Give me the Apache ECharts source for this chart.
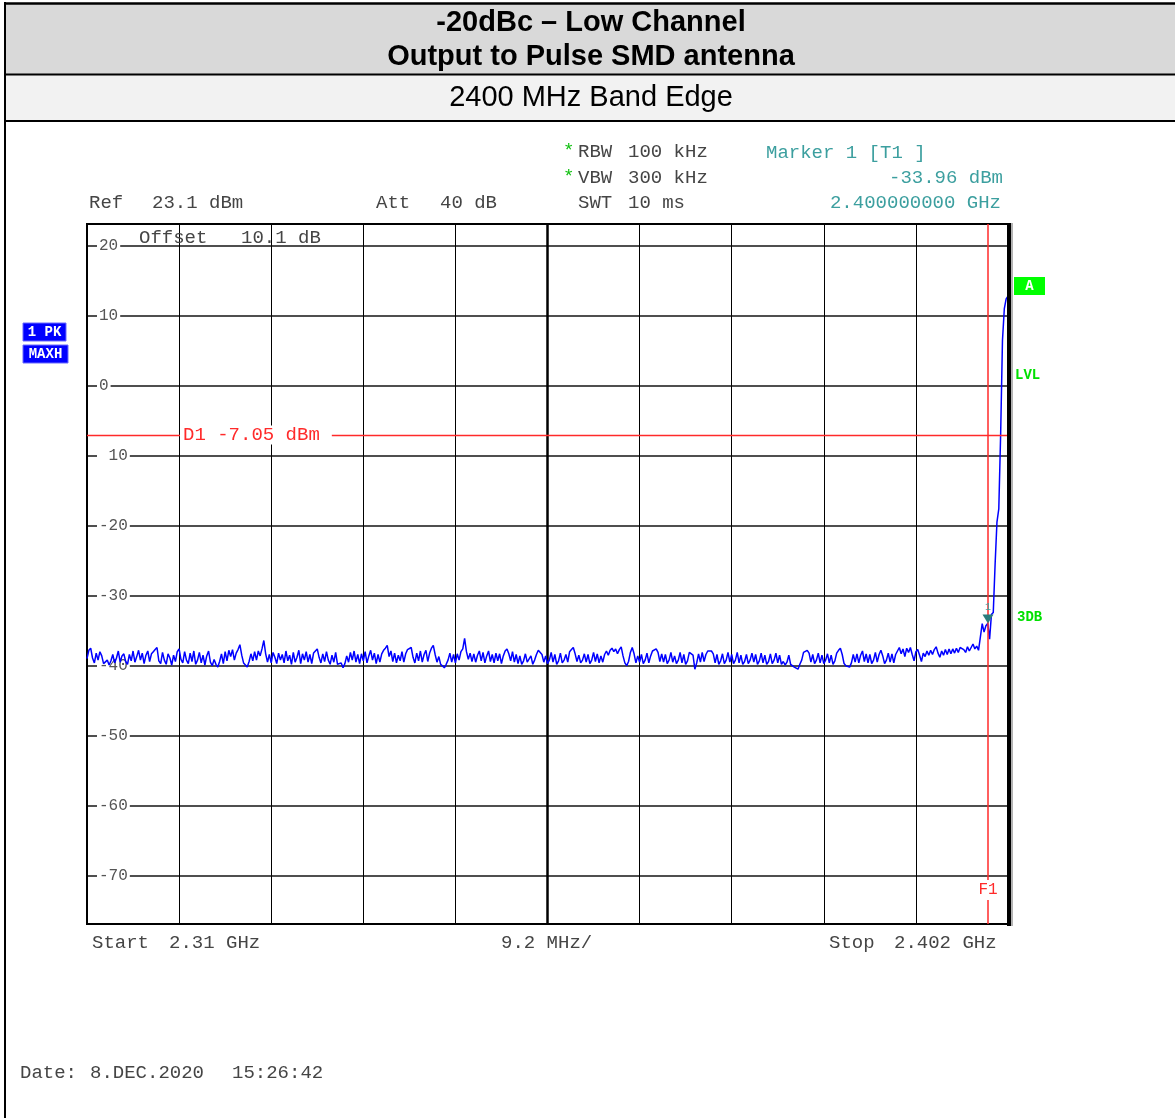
<!DOCTYPE html>
<html>
<head>
<meta charset="utf-8">
<script src="https://cdn.jsdelivr.net/npm/echarts@6/dist/echarts.min.js"></script>
<style>
  html, body { margin: 0; padding: 0; background: #fff; }
  #c { width: 1175px; height: 1118px; }
</style>
</head>
<body>
<div id="c"></div>
<script>
// Sweep and display settings of the analyzer screen
const startGHz = 2.31;
const stopGHz = 2.402;
const refLevelDbm = 23.1;
const rangeDb = 100;
const offsetDb = 10.1;

// Graticule positions and their labels
const freqGridGHz = [2.31, 2.3192, 2.3284, 2.3376, 2.3468, 2.356, 2.3652, 2.3744, 2.3836, 2.3928, 2.402];
const levelGridDbm = [20, 10, 0, -10, -20, -30, -40, -50, -60, -70];
const levelGridLabels = ['20', '10', '0', ' 10', '-20', '-30', '-40', '-50', '-60', '-70'];

// Marker 1 and display line D1
const markerGHz = 2.4;
const markerDbm = -33.96;
const displayLineDbm = -7.05;

// Trace 1 (PK, MAXH), 501 sweep points from start to stop, dBm
const traceDbm = [
  -39.0,-37.8,-37.5,-38.9,-39.6,-38.2,-39.2,-38.0,-38.6,-39.7,
  -39.8,-39.2,-39.9,-39.3,-38.4,-39.6,-38.9,-37.9,-39.5,-38.6,
  -38.3,-39.4,-39.8,-38.4,-39.3,-37.9,-39.5,-38.7,-37.8,-39.2,
  -38.2,-39.7,-38.5,-37.9,-39.4,-38.3,-38.0,-37.7,-37.4,-39.3,
  -39.7,-38.1,-39.2,-39.8,-38.3,-38.9,-39.9,-38.5,-39.4,-38.0,
  -37.6,-39.1,-39.6,-38.0,-39.2,-39.7,-38.2,-39.4,-37.9,-39.8,
  -39.2,-38.1,-39.6,-38.5,-39.9,-38.6,-37.9,-39.5,-40.0,-39.1,
  -39.8,-40.2,-39.4,-38.3,-39.7,-38.0,-39.3,-37.8,-38.7,-37.7,
  -39.2,-38.2,-37.7,-37.0,-38.5,-39.6,-39.9,-40.2,-39.4,-38.3,
  -39.3,-38.0,-39.2,-37.9,-38.6,-37.6,-36.4,-38.3,-39.5,-38.4,
  -39.6,-38.1,-38.8,-39.7,-38.2,-39.2,-38.4,-39.6,-37.9,-39.3,
  -38.5,-39.8,-38.1,-39.5,-38.8,-37.8,-39.7,-38.3,-39.2,-38.0,
  -39.5,-38.4,-39.7,-38.2,-37.9,-37.6,-38.8,-39.6,-38.3,-39.4,
  -38.0,-39.2,-39.8,-38.5,-39.5,-38.1,-39.8,-40.0,-39.6,-40.3,
  -39.7,-38.6,-39.5,-38.1,-39.2,-37.9,-39.5,-38.4,-39.7,-38.3,
  -39.3,-38.0,-39.6,-38.6,-37.8,-39.2,-38.2,-39.7,-38.4,-39.5,
  -38.3,-37.8,-37.5,-37.1,-38.7,-37.9,-39.4,-38.2,-39.6,-38.5,
  -39.3,-38.0,-39.5,-38.3,-37.7,-37.5,-37.4,-38.8,-39.6,-38.2,
  -39.3,-37.9,-39.5,-38.4,-37.8,-39.4,-38.2,-37.5,-37.1,-38.4,
  -39.5,-38.7,-39.8,-40.0,-40.3,-39.8,-39.2,-38.2,-39.5,-38.4,
  -39.6,-38.3,-39.2,-38.0,-37.6,-36.1,-38.0,-39.1,-38.2,-39.4,
  -38.3,-39.5,-38.5,-37.9,-39.3,-38.1,-39.6,-38.6,-37.9,-39.4,
  -38.4,-39.6,-38.2,-39.3,-38.3,-39.7,-38.6,-37.9,-37.6,-38.3,
  -39.3,-38.0,-39.5,-38.4,-39.7,-38.6,-39.8,-39.3,-38.3,-39.5,
  -39.7,-38.6,-39.8,-39.2,-38.4,-37.8,-37.6,-38.4,-39.5,-38.6,
  -39.7,-39.2,-38.1,-39.5,-38.4,-39.8,-39.3,-38.2,-39.6,-39.2,
  -38.4,-39.5,-38.0,-37.7,-37.4,-38.3,-39.4,-38.5,-39.6,-39.2,
  -38.3,-39.5,-38.4,-39.7,-39.2,-38.1,-39.4,-38.3,-39.6,-38.6,
  -39.5,-38.4,-37.9,-38.5,-37.8,-37.5,-38.0,-37.6,-38.3,-37.7,
  -37.3,-38.6,-39.6,-40.0,-39.4,-38.1,-37.4,-38.3,-39.6,-38.6,
  -39.5,-38.4,-39.7,-39.2,-38.2,-39.6,-38.6,-37.9,-37.7,-37.6,
  -38.1,-39.4,-38.3,-39.5,-38.4,-39.7,-39.2,-38.1,-39.5,-38.6,
  -39.7,-39.2,-38.1,-39.6,-38.4,-39.8,-39.3,-38.1,-37.9,-38.5,
  -40.5,-39.6,-38.3,-39.5,-38.1,-39.4,-38.4,-37.9,-37.9,-37.9,
  -38.3,-39.6,-38.4,-39.8,-39.3,-38.3,-39.7,-39.2,-38.1,-39.5,
  -38.4,-39.7,-39.2,-38.1,-39.6,-38.5,-39.8,-39.4,-38.4,-39.7,
  -39.2,-38.2,-39.5,-38.4,-39.8,-39.3,-38.2,-39.6,-38.5,-39.8,
  -39.4,-38.3,-39.7,-39.2,-38.2,-39.6,-38.5,-39.8,-39.4,-39.9,
  -39.5,-38.5,-39.8,-40.0,-40.2,-40.3,-40.5,-39.8,-39.2,-38.1,
  -37.9,-37.8,-38.2,-39.5,-38.4,-39.7,-39.2,-38.2,-39.6,-38.5,
  -39.7,-39.2,-38.3,-39.6,-38.5,-39.8,-39.3,-38.2,-37.8,-37.5,
  -38.4,-39.7,-40.0,-40.1,-40.2,-39.6,-38.4,-39.5,-38.3,-39.6,
  -38.5,-37.9,-39.4,-38.3,-39.6,-38.4,-39.7,-39.2,-38.1,-39.5,
  -38.4,-37.8,-38.6,-39.7,-39.2,-38.2,-39.5,-38.3,-39.6,-38.4,
  -37.9,-37.4,-38.3,-37.6,-38.7,-37.5,-38.1,-37.4,-38.4,-39.3,
  -38.0,-37.7,-38.5,-39.4,-38.2,-38.7,-37.9,-38.5,-37.8,-38.4,
  -37.7,-37.3,-38.2,-38.8,-37.9,-38.5,-37.7,-38.4,-37.6,-38.3,
  -37.6,-38.2,-37.5,-38.1,-37.4,-37.3,-37.7,-38.1,-37.3,-37.9,
  -37.4,-36.9,-37.6,-37.2,-37.8,
  -37.9,-34.0,-35.2,-34.3,-33.96,-36.2,-32.7,-32.4,-25.5,-19.5,-17.6,-7.0,6.5,11.0,12.4,12.8
];

const MONO = '"Liberation Mono", "DejaVu Sans Mono", monospace';
const SANS = '"Liberation Sans", Arial, sans-serif';
const GREY = '#454545';
const TEAL = '#3c9f9f';
const RED = '#ff2a2a';
const GREEN = '#00e000';

const bottomDbm = refLevelDbm - rangeDb;
const stepGHz = (stopGHz - startGHz) / (traceDbm.length - 1);
const tracePoints = traceDbm.map((v, i) => [startGHz + i * stepGHz, v]);

const chart = echarts.init(document.getElementById('c'), null, { renderer: 'canvas', width: 1175, height: 1118 });

function txt(x, y, s, color, extra) {
  return {
    type: 'text', z: 50,
    style: Object.assign({
      text: s, x: x, y: y, fill: color || GREY,
      font: '19px ' + MONO, align: 'left', verticalAlign: 'middle'
    }, extra || {})
  };
}

const option = {
  animation: false,
  backgroundColor: '#fff',
  grid: {
    left: 87, top: 224, width: 921, height: 700,
    show: true, borderColor: '#000', borderWidth: 2, backgroundColor: 'transparent'
  },
  xAxis: {
    type: 'value', min: startGHz, max: stopGHz,
    axisLine: { show: false },
    axisTick: { show: false, customValues: freqGridGHz },
    axisLabel: { show: false },
    splitLine: { show: true, lineStyle: { color: '#000', width: 1 } }
  },
  yAxis: [
    {
      type: 'value', min: bottomDbm, max: refLevelDbm, position: 'left',
      axisLine: { show: false },
      axisTick: { show: false, customValues: levelGridDbm },
      axisLabel: { show: false },
      splitLine: { show: true, lineStyle: { color: '#151515', width: 1.5 } }
    },
    {
      type: 'value', min: bottomDbm, max: refLevelDbm, position: 'left', z: 1,
      axisLine: { show: false },
      axisTick: { show: false, customValues: levelGridDbm },
      splitLine: { show: false },
      axisLabel: {
        show: true, inside: true, margin: 10,
        customValues: levelGridDbm,
        formatter: v => levelGridLabels[levelGridDbm.indexOf(Math.round(v))],
        color: '#555', fontFamily: MONO, fontSize: 16,
        backgroundColor: '#fff', padding: [1, 2, 1, 2]
      }
    }
  ],
  series: [{
    type: 'line', name: 'Trace 1',
    data: tracePoints, yAxisIndex: 0,
    symbol: 'none', showSymbol: false, sampling: null, z: 3,
    lineStyle: { color: '#0000ff', width: 1.5 },
    markLine: {
      silent: true, symbol: 'none', animation: false,
      label: { show: false },
      data: [
        { yAxis: displayLineDbm, lineStyle: { color: RED, width: 1.3, type: 'solid' } },
        { xAxis: markerGHz, lineStyle: { color: RED, width: 1.5, type: 'solid' } }
      ]
    },
    markPoint: {
      silent: true, animation: false,
      symbol: 'triangle', symbolSize: [11, 9], symbolRotate: 180, symbolOffset: [0, -4.5],
      itemStyle: { color: '#2b7c7c' },
      label: { show: true, formatter: '1', position: 'top', distance: 2, color: TEAL, fontSize: 10, fontFamily: MONO },
      data: [{ coord: [markerGHz, markerDbm] }]
    }
  }]
};

chart.setOption(option);

// Positions that follow the axes: display line, marker line, centre graticule line
const d1Pos = chart.convertToPixel({ gridIndex: 0 }, [startGHz, displayLineDbm]);
const f1Pos = chart.convertToPixel({ gridIndex: 0 }, [markerGHz, bottomDbm]);
const midTop = chart.convertToPixel({ gridIndex: 0 }, [freqGridGHz[5], refLevelDbm]);
const midBot = chart.convertToPixel({ gridIndex: 0 }, [freqGridGHz[5], bottomDbm]);

const graphics = [
  // title block
  { type: 'rect', z: 1, shape: { x: 5, y: 4, width: 1170, height: 70 }, style: { fill: '#d9d9d9' } },
  { type: 'rect', z: 1, shape: { x: 5, y: 75, width: 1170, height: 46 }, style: { fill: '#f2f2f2' } },
  { type: 'line', z: 2, shape: { x1: 4, y1: 3.5, x2: 1175, y2: 3.5 }, style: { stroke: '#000', lineWidth: 2.5 } },
  { type: 'line', z: 2, shape: { x1: 4, y1: 74.5, x2: 1175, y2: 74.5 }, style: { stroke: '#000', lineWidth: 2 } },
  { type: 'line', z: 2, shape: { x1: 4, y1: 121, x2: 1175, y2: 121 }, style: { stroke: '#000', lineWidth: 2 } },
  { type: 'line', z: 2, shape: { x1: 5, y1: 2, x2: 5, y2: 1118 }, style: { stroke: '#000', lineWidth: 2 } },
  txt(591, 23, '-20dBc \u2013 Low Channel', '#000', { font: 'bold 29px ' + SANS, align: 'center' }),
  txt(591, 57, 'Output to Pulse SMD antenna', '#000', { font: 'bold 29px ' + SANS, align: 'center' }),
  txt(591, 98, '2400 MHz Band Edge', '#000', { font: '29px ' + SANS, align: 'center' }),

  // centre graticule line drawn heavier
  { type: 'line', z: 1, silent: true,
    shape: { x1: midTop[0], y1: midTop[1], x2: midBot[0], y2: midBot[1] },
    style: { stroke: '#000', lineWidth: 2.5 } },

  // instrument settings above the graticule
  txt(563, 151, '*', '#10c010'),
  txt(563, 177, '*', '#10c010'),
  txt(578, 152, 'RBW'), txt(628, 152, '100 kHz'),
  txt(578, 178, 'VBW'), txt(628, 178, '300 kHz'),
  txt(578, 203, 'SWT'), txt(628, 203, '10 ms'),
  txt(89, 203, 'Ref'), txt(152, 203, refLevelDbm.toFixed(1) + ' dBm'),
  txt(376, 203, 'Att'), txt(440, 203, '40 dB'),
  txt(766, 153, 'Marker 1 [T1 ]', TEAL),
  txt(1003, 178, markerDbm.toFixed(2) + ' dBm', TEAL, { align: 'right' }),
  txt(1001, 203, markerGHz.toFixed(9) + ' GHz', TEAL, { align: 'right' }),
  txt(139, 238, 'Offset'), txt(241, 238, offsetDb.toFixed(1) + ' dB'),

  // trace indicators on the left
  { type: 'rect', z: 40, shape: { x: 23, y: 323, width: 43, height: 18 }, style: { fill: '#0000ff', stroke: '#6a6aff', lineWidth: 1 } },
  { type: 'rect', z: 40, shape: { x: 23, y: 345, width: 45, height: 18 }, style: { fill: '#0000ff', stroke: '#6a6aff', lineWidth: 1 } },
  txt(44.5, 332.5, '1 PK', '#fff', { font: 'bold 14px ' + MONO, align: 'center' }),
  txt(45.5, 354.5, 'MAXH', '#fff', { font: 'bold 14px ' + MONO, align: 'center' }),

  // indicators on the right
  { type: 'rect', z: 40, shape: { x: 1014, y: 277, width: 31, height: 18 }, style: { fill: '#00ff00' } },
  txt(1029.5, 286.5, 'A', '#fff', { font: 'bold 14px ' + MONO, align: 'center' }),
  txt(1015, 375, 'LVL', GREEN, { font: 'bold 14px ' + MONO }),
  txt(1017, 617, '3DB', GREEN, { font: 'bold 14px ' + MONO }),

  // heavy right edge of the graticule
  { type: 'rect', z: 45, shape: { x: 1007, y: 223, width: 4, height: 703 }, style: { fill: '#000' } },
  { type: 'line', z: 45, shape: { x1: 1012, y1: 223, x2: 1012, y2: 926 }, style: { stroke: '#9a9a9a', lineWidth: 1.5 } },

  // sweep span under the graticule
  txt(92, 943, 'Start'), txt(169, 943, startGHz.toFixed(2) + ' GHz'),
  txt(501, 943, ((stopGHz - startGHz) * 100).toFixed(1) + ' MHz/'),
  txt(829, 943, 'Stop'), txt(894, 943, stopGHz.toFixed(3) + ' GHz'),

  // timestamp
  txt(20, 1073, 'Date:'), txt(90, 1073, '8.DEC.2020'), txt(232, 1073, '15:26:42'),

  // display line and marker frequency labels
  txt(d1Pos[0] + 93, d1Pos[1], 'D1 ' + displayLineDbm.toFixed(2) + ' dBm', RED,
      { backgroundColor: '#fff', padding: [0, 12, 0, 3] }),
  txt(f1Pos[0], f1Pos[1] - 34, 'F1', RED,
      { font: '16px ' + MONO, align: 'center', backgroundColor: '#fff', padding: [2, 1, 2, 1] })
];

chart.setOption({ graphic: graphics });
</script>
</body>
</html>
